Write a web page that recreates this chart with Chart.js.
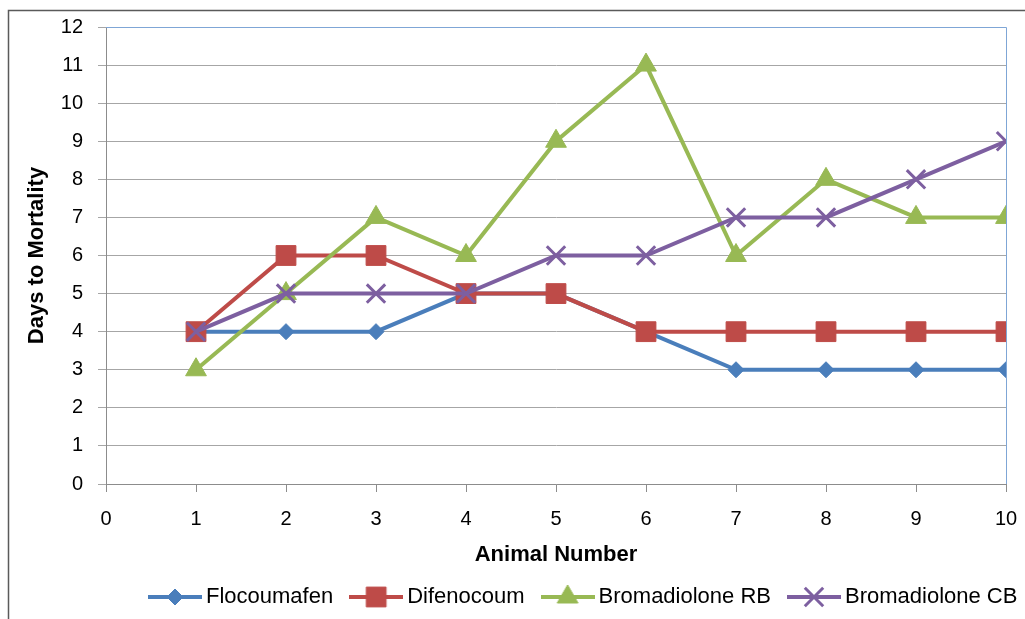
<!DOCTYPE html>
<html lang="en">
<head>
  <meta charset="UTF-8"><meta name="viewport" content="width=device-width">
  <title>Days to Mortality</title>
  <script src="https://cdn.jsdelivr.net/npm/chart.js"></script>
  <style>
    html,body{margin:0;padding:0;background:#fff;}
    #wrap{width:1025px;height:619px;}
  </style>
</head>
<body>
  <div id="wrap"><canvas id="mortChart"></canvas></div>

  <script>
    // data
    const animalNumbers = [1, 2, 3, 4, 5, 6, 7, 8, 9, 10];
    const flocoumafen   = [4, 4, 4, 5, 5, 4, 3, 3, 3, 3];
    const difenocoum    = [4, 6, 6, 5, 5, 4, 4, 4, 4, 4];
    const bromadRB      = [3, 5, 7, 6, 9, 11, 6, 8, 7, 7];
    const bromadCB      = [4, 5, 5, 5, 6, 6, 7, 7, 8, 9];
    const seriesNames   = ['Flocoumafen', 'Difenocoum', 'Bromadiolone RB', 'Bromadiolone CB'];
    const xTicks = [0, 10];
    const yTicks = [0, 12];

    const FONT = '"Liberation Sans", Arial, sans-serif';
    const colors = ['#4A7EBB', '#BE4B48', '#98B954', '#7D5FA0'];
    const styles = [
      {pointStyle:'rectRot', pointRadius:8, pointBorderWidth:1},
      {pointStyle:'rect', pointRadius:14, pointBorderWidth:1},
      {pointStyle:'triangle', pointRadius:12, pointBorderWidth:1},
      {pointStyle:'crossRot', pointRadius:13, pointBorderWidth:3}
    ];
    const allSeries = [flocoumafen, difenocoum, bromadRB, bromadCB];

    // little line+marker picture for each legend entry
    function legendIcon(i){
      const c = document.createElement('canvas');
      c.width = 54; c.height = 32;
      const ctx = c.getContext('2d');
      ctx.strokeStyle = colors[i]; ctx.lineWidth = 4;
      ctx.beginPath(); ctx.moveTo(0, 16); ctx.lineTo(54, 16); ctx.stroke();
      ctx.fillStyle = colors[i];
      ctx.lineWidth = styles[i].pointBorderWidth;
      Chart.helpers.drawPoint(ctx, {
        pointStyle: styles[i].pointStyle,
        radius: styles[i].pointRadius,
        borderWidth: styles[i].pointBorderWidth,
        rotation: 0
      }, 27, 16);
      return c;
    }

    const datasets = allSeries.map((vals, i) => ({
      label: seriesNames[i],
      data: vals.map((v, k) => ({x: animalNumbers[k], y: v})),
      borderColor: colors[i],
      backgroundColor: colors[i],
      pointBackgroundColor: colors[i],
      pointBorderColor: colors[i],
      borderWidth: 4,
      tension: 0,
      order: 4 - i,
      ...styles[i],
      pointHoverRadius: styles[i].pointRadius
    }));

    // outer frame + plot area blue border, legend placement
    const framePlugin = {
      id: 'frame',
      beforeDraw(chart){
        const ctx = chart.ctx;
        ctx.save();
        ctx.fillStyle = '#fff';
        ctx.fillRect(0, 0, chart.width, chart.height);
        ctx.strokeStyle = '#5a5a5a'; ctx.lineWidth = 1.5;
        ctx.strokeRect(8.5, 10.5, 1200, 1000);
        ctx.restore();
      },
      beforeDatasetsDraw(chart){
        const a = chart.chartArea, ctx = chart.ctx;
        ctx.save();
        ctx.strokeStyle = '#7FA6D6'; ctx.lineWidth = 1;
        ctx.beginPath();
        ctx.moveTo(a.left, a.top + 0.5); ctx.lineTo(a.right + 0.5, a.top + 0.5);
        ctx.lineTo(a.right + 0.5, a.bottom);
        ctx.stroke();
        ctx.restore();
      },
      afterLayout(chart){
        const lg = chart.legend;
        const h = lg.bottom - lg.top;
        lg.left = 132; lg.right = chart.width + 100;
        lg.top = 563; lg.bottom = 563 + h;
      }
    };

    new Chart(document.getElementById('mortChart'), {
      type: 'line',
      data: {datasets},
      plugins: [framePlugin],
      options: {
        responsive: true,
        maintainAspectRatio: false,
        animation: false,
        layout: {padding: {left: 8, right: 19, top: 26, bottom: 0}},
        plugins: {
          tooltip: {enabled: false},
          legend: {
            position: 'bottom',
            align: 'start',
            labels: {
              usePointStyle: true,
              pointStyleWidth: 40,
              padding: 23,
              color: '#000',
              font: {family: FONT, size: 22},
              generateLabels: chart => chart.data.datasets.map((d, i) => ({
                text: d.label,
                pointStyle: legendIcon(i),
                fillStyle: colors[i],
                strokeStyle: colors[i],
                lineWidth: 0,
                hidden: false,
                datasetIndex: i,
                fontColor: '#000'
              }))
            }
          }
        },
        scales: {
          x: {
            type: 'linear',
            min: xTicks[0], max: xTicks[1],
            afterFit: s => { s.height = 80; s.paddingLeft = 0; s.paddingRight = 0; },
            ticks: {stepSize: 1, color: '#000', padding: 15, font: {family: FONT, size: 20}},
            grid: {drawOnChartArea: false, drawTicks: true, tickLength: 8, color: '#8c8c8c'},
            border: {color: '#8c8c8c', width: 1},
            title: {display: true, text: 'Animal Number', color: '#000',
                    font: {family: FONT, size: 22, weight: 'bold'}, padding: {top: 0, bottom: -4}}
          },
          y: {
            min: yTicks[0], max: yTicks[1],
            afterFit: s => { s.width = 98; },
            ticks: {stepSize: 1, color: '#000', padding: 15, font: {family: FONT, size: 20}},
            grid: {color: '#a6a6a6', tickLength: 8, lineWidth: 1},
            border: {color: '#8c8c8c', width: 1},
            title: {display: true, text: 'Days to Mortality', color: '#000',
                    font: {family: FONT, size: 22, weight: 'bold'}, padding: {top: 16, bottom: 0}}
          }
        }
      }
    });
  </script>
</body>
</html>
